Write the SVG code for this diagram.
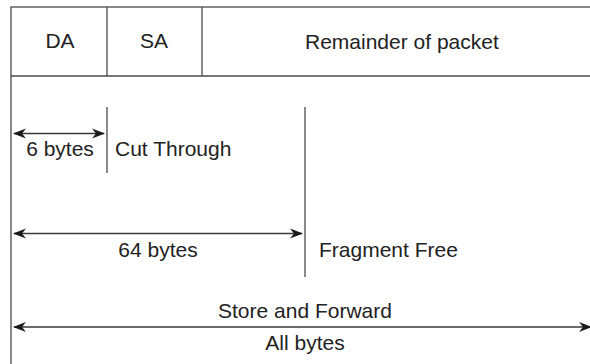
<svg xmlns="http://www.w3.org/2000/svg" width="590" height="364" viewBox="0 0 590 364">
<style>
.ln{stroke:#4a4a4a;stroke-width:1.3;fill:none}
.ar{stroke:#3a3a3a;stroke-width:1.3;fill:none}
text{font-family:"Liberation Sans",Arial,sans-serif;font-size:21px;fill:#222}
</style>
<defs>
<marker id="ah" markerUnits="userSpaceOnUse" markerWidth="14" markerHeight="12" refX="12" refY="5" orient="auto-start-reverse" viewBox="0 0 14 10">
<path d="M0,0 L13,5 L0,10 L4,5 Z" fill="#1a1a1a"/>
</marker>
</defs>
<g id="frame">
<rect class="ln" x="11" y="7" width="620" height="400"/>
<line class="ln" x1="11" y1="76" x2="600" y2="76"/>
</g>
<g id="da"><line class="ln" x1="107" y1="7" x2="107" y2="76"/><text x="60" y="48" text-anchor="middle">DA</text></g>
<g id="sa"><line class="ln" x1="202" y1="7" x2="202" y2="76"/><text x="154" y="48" text-anchor="middle">SA</text></g>
<g id="rem"><text x="305" y="49">Remainder of packet</text></g>
<g id="cut"><line class="ln" x1="107" y1="107" x2="107" y2="173"/><text x="60" y="156" text-anchor="middle">6 bytes</text><text x="115" y="156">Cut Through</text></g>
<g id="frag"><line class="ln" x1="305" y1="107" x2="305" y2="277"/><text x="158" y="257" text-anchor="middle">64 bytes</text><text x="319" y="257">Fragment Free</text></g>
<g id="store"><text x="305" y="318" text-anchor="middle">Store and Forward</text><text x="305" y="350" text-anchor="middle">All bytes</text></g>
<g id="connectors">
<line class="ar" x1="14" y1="133.5" x2="104" y2="133.5" marker-start="url(#ah)" marker-end="url(#ah)"/>
<line class="ar" x1="14" y1="233.5" x2="302" y2="233.5" marker-start="url(#ah)" marker-end="url(#ah)"/>
<line class="ar" x1="14" y1="327" x2="591" y2="327" marker-start="url(#ah)" marker-end="url(#ah)"/>
</g>
</svg>
